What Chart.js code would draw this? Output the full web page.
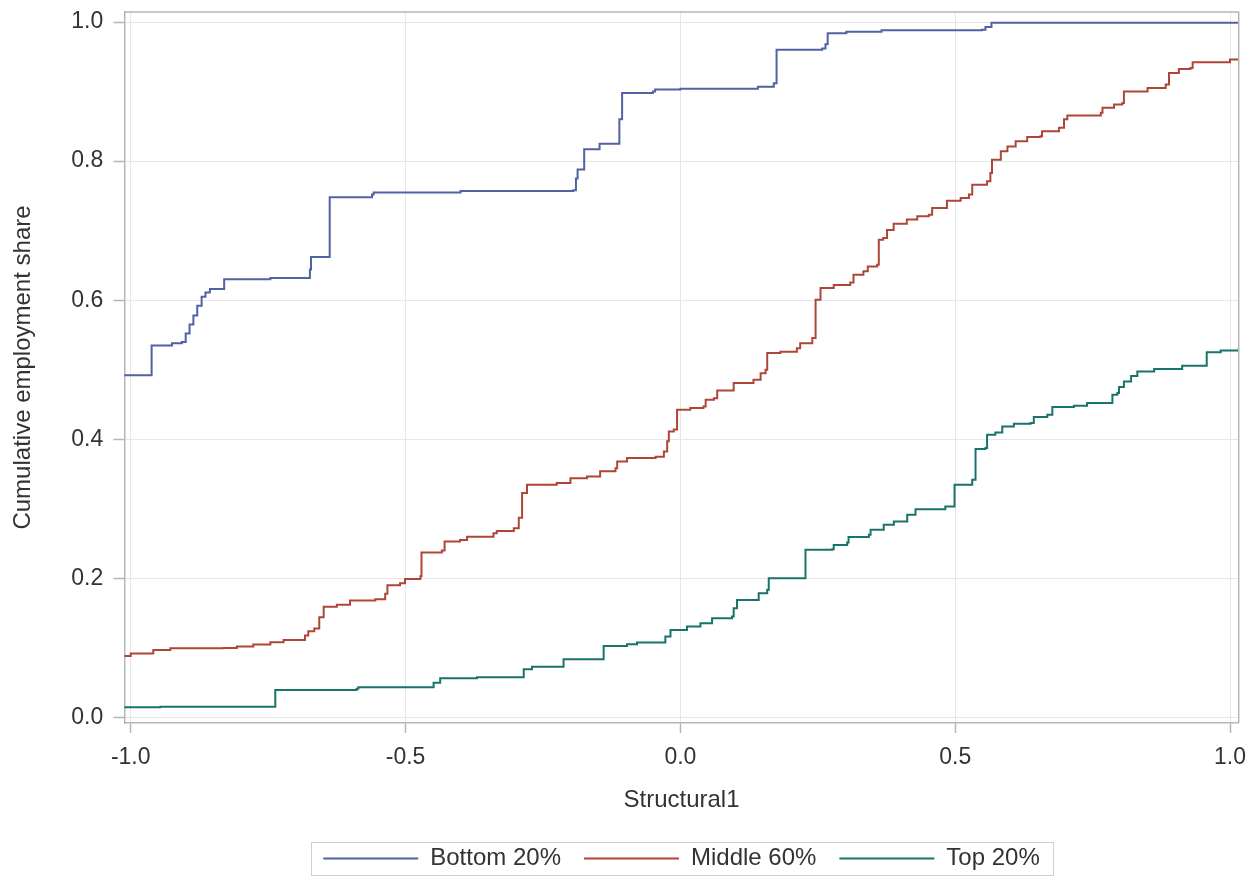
<!DOCTYPE html>
<html>
<head>
<meta charset="utf-8">
<script src="https://cdn.jsdelivr.net/npm/chart.js@4.4.1/dist/chart.umd.min.js"></script>
<style>
    html, body { margin: 0; padding: 0; background: #ffffff; }
    #wrap { width: 1257px; height: 877px; }
</style>
</head>
<body>
<div id="wrap"><canvas id="cdf-chart" width="1257" height="877"></canvas></div>
<script>
// Шаги кумулятивной доли занятости (x - где меняется значение, y - новое значение)
const bottomX = [-1.012, -0.962, -0.925, -0.907, -0.900, -0.893, -0.886, -0.879, -0.871, -0.864, -0.856, -0.830,
    -0.746, -0.674, -0.672, -0.638, -0.561, -0.558, -0.400, -0.195, -0.190, -0.187, -0.175, -0.147, -0.111, -0.106,
    -0.050, -0.046, 0.000, 0.141, 0.170, 0.175, 0.258, 0.264, 0.268, 0.302, 0.366, 0.549, 0.555, 0.566, 1.016];
const bottomY = [0.492, 0.535, 0.538, 0.540, 0.552, 0.565, 0.578, 0.592, 0.605, 0.611, 0.616, 0.630,
    0.632, 0.644, 0.662, 0.748, 0.752, 0.755, 0.757, 0.758, 0.775, 0.788, 0.817, 0.825, 0.860, 0.898,
    0.900, 0.903, 0.904, 0.907, 0.912, 0.960, 0.962, 0.968, 0.984, 0.986, 0.988, 0.989, 0.993, 0.999, 0.999];

const middleX = [-1.012, -1.000, -0.959, -0.928, -0.831, -0.807, -0.777, -0.746, -0.722, -0.683, -0.677, -0.666,
    -0.657, -0.649, -0.625, -0.601, -0.555, -0.537, -0.533, -0.510, -0.501, -0.473, -0.471, -0.434, -0.429, -0.401,
    -0.388, -0.340, -0.334, -0.303, -0.294, -0.288, -0.279, -0.225, -0.200, -0.170, -0.146, -0.118, -0.115, -0.097,
    -0.045, -0.030, -0.024, -0.021, -0.012, -0.006, 0.018, 0.042, 0.046, 0.061, 0.067, 0.097, 0.133, 0.146, 0.155,
    0.158, 0.182, 0.212, 0.218, 0.240, 0.246, 0.255, 0.279, 0.309, 0.315, 0.333, 0.341, 0.358, 0.361, 0.369, 0.376,
    0.388, 0.412, 0.431, 0.452, 0.458, 0.485, 0.510, 0.525, 0.531, 0.558, 0.564, 0.567, 0.583, 0.595, 0.610, 0.631,
    0.655, 0.658, 0.689, 0.698, 0.704, 0.765, 0.768, 0.789, 0.804, 0.807, 0.850, 0.883, 0.889, 0.907, 0.928, 0.932,
    1.000, 1.016];
const middleY = [0.0885, 0.092, 0.097, 0.0996, 0.100, 0.102, 0.105, 0.108, 0.1115, 0.118, 0.124, 0.128,
    0.144, 0.159, 0.162, 0.168, 0.170, 0.178, 0.190, 0.193, 0.199, 0.203, 0.237, 0.240, 0.253, 0.255,
    0.260, 0.265, 0.268, 0.272, 0.287, 0.3226, 0.3345, 0.337, 0.344, 0.3465, 0.354, 0.3585, 0.368, 0.373,
    0.375, 0.3825, 0.397, 0.411, 0.414, 0.4424, 0.445, 0.447, 0.457, 0.459, 0.470, 0.481, 0.4856, 0.495, 0.500,
    0.524, 0.526, 0.531, 0.538, 0.5456, 0.6007, 0.6175, 0.622, 0.6256, 0.6367, 0.6415, 0.6486, 0.651, 0.687, 0.6895, 0.701,
    0.710, 0.716, 0.7206, 0.723, 0.7327, 0.743, 0.747, 0.7518, 0.766, 0.771, 0.783, 0.802, 0.814, 0.821, 0.8285, 0.8348,
    0.8357, 0.843, 0.848, 0.860, 0.8655, 0.8694, 0.8766, 0.8813, 0.8837, 0.900, 0.905, 0.910, 0.9268, 0.9326, 0.934, 0.942,
    0.946, 0.946];

const topX = [-1.012, -0.946, -0.737, -0.589, -0.586, -0.449, -0.437, -0.370, -0.285, -0.270, -0.2125, -0.1396,
    -0.097, -0.079, -0.0273, -0.018, 0.012, 0.0365, 0.0577, 0.094, 0.097, 0.103, 0.1425, 0.158, 0.1608, 0.2276,
    0.2762, 0.279, 0.3035, 0.306, 0.343, 0.346, 0.370, 0.3884, 0.4127, 0.4278, 0.482, 0.4988, 0.531, 0.537, 0.555,
    0.558, 0.573, 0.5856, 0.6068, 0.637, 0.643, 0.6676, 0.6767, 0.716, 0.740, 0.786, 0.795, 0.798, 0.807, 0.820,
    0.8314, 0.862, 0.913, 0.9576, 0.983, 1.016];
const topY = [0.0147, 0.0155, 0.0396, 0.0414, 0.0435, 0.050, 0.0564, 0.0578, 0.0693, 0.073, 0.0837, 0.1029,
    0.1053, 0.1076, 0.1163, 0.1259, 0.1306, 0.1355, 0.1427, 0.145, 0.157, 0.169, 0.1787, 0.1835, 0.2003, 0.241,
    0.242, 0.248, 0.2515, 0.2593, 0.2626, 0.2698, 0.277, 0.2817, 0.2914, 0.2995, 0.3033, 0.3345, 0.3417, 0.386, 0.3873,
    0.4065, 0.4098, 0.4184, 0.4223, 0.4233, 0.432, 0.4353, 0.4463, 0.4482, 0.452, 0.464, 0.4665, 0.475, 0.483, 0.491,
    0.4976, 0.501, 0.5058, 0.525, 0.5278, 0.5327];

const seriesLabels = ['Bottom 20%', 'Middle 60%', 'Top 20%'];
const seriesColors = ['#4f62a4', '#ae4637', '#18736a'];
const xTickValues = [-1.0, -0.5, 0.0, 0.5, 1.0];
const yTickValues = [0.0, 0.2, 0.4, 0.6, 0.8, 1.0];

const axisGray = '#b3b7bb';
const textGray = '#333333';
const fontFamily = '"Liberation Sans", Arial, sans-serif';

function toPoints(xs, ys) {
    return xs.map((x, i) => ({ x: x, y: ys[i] }));
}

function makeSeries(label, xs, ys, color) {
    return {
        label: label,
        data: toPoints(xs, ys),
        borderColor: color,
        backgroundColor: color,
        borderWidth: 2,
        showLine: true,
        stepped: 'before', // горизонталь, потом вертикаль в точке x
        pointRadius: 0,
        fill: false
    };
}

// Рамка вокруг области графика (верх и право) и рамка легенды
const framePlugin = {
    id: 'frame',
    afterDraw(chart) {
        const c = chart.ctx;
        const a = chart.chartArea;
        c.save();
        c.strokeStyle = axisGray;
        c.lineWidth = 1.5;
        c.beginPath();
        c.moveTo(a.left, a.top);
        c.lineTo(a.right, a.top);
        c.lineTo(a.right, a.bottom);
        c.stroke();

        const boxes = chart.legend.legendHitBoxes;
        if (boxes && boxes.length) {
            const first = boxes[0];
            const last = boxes[boxes.length - 1];
            const midY = first.top + first.height / 2;
            const left = first.left - 12.5;
            const right = last.left + last.width + 13;
            c.strokeStyle = '#cfcfcf';
            c.lineWidth = 1;
            c.strokeRect(Math.round(left) + 0.5, Math.round(midY - 16.5) + 0.5, Math.round(right - left), 33);
        }
        c.restore();
    }
};

const ctx = document.getElementById('cdf-chart').getContext('2d');
const chart = new Chart(ctx, {
    type: 'scatter',
    data: {
        datasets: [
            makeSeries(seriesLabels[0], bottomX, bottomY, seriesColors[0]),
            makeSeries(seriesLabels[1], middleX, middleY, seriesColors[1]),
            makeSeries(seriesLabels[2], topX, topY, seriesColors[2])
        ]
    },
    options: {
        responsive: false,
        animation: false,
        devicePixelRatio: 1,
        layout: {
            padding: { left: 0, right: 18.3, top: 12, bottom: -3.5 }
        },
        plugins: {
            tooltip: { enabled: false },
            legend: {
                display: true,
                position: 'bottom',
                align: 'center',
                fullSize: false, // центрируем по области графика
                labels: {
                    usePointStyle: true,
                    pointStyle: 'line',
                    pointStyleWidth: 95,
                    padding: 23,
                    color: textGray,
                    font: { family: fontFamily, size: 24 }
                }
            }
        },
        scales: {
            x: {
                type: 'linear',
                min: -1.0117,
                max: 1.0158,
                afterBuildTicks: (scale) => {
                    scale.ticks = xTickValues.map(v => ({ value: v }));
                },
                afterFit: (scale) => {
                    scale.height = 100.5;
                    scale.paddingLeft = 0;
                    scale.paddingRight = 0;
                },
                ticks: {
                    padding: 11,
                    color: textGray,
                    font: { family: fontFamily, size: 23 },
                    maxRotation: 0,
                    callback: (v) => Number(v).toFixed(1)
                },
                grid: {
                    color: '#e6e6e6',
                    lineWidth: 1,
                    tickLength: 10,
                    tickColor: axisGray,
                    tickWidth: 1.5
                },
                border: { color: axisGray, width: 1.5 },
                title: {
                    display: true,
                    text: 'Structural1',
                    color: textGray,
                    font: { family: fontFamily, size: 24 },
                    padding: { top: 0, bottom: 9 }
                }
            },
            y: {
                type: 'linear',
                min: -0.008,
                max: 1.0144,
                afterBuildTicks: (scale) => {
                    scale.ticks = yTickValues.map(v => ({ value: v }));
                },
                afterFit: (scale) => {
                    scale.width = 124.3;
                    scale.paddingTop = 0; // без лишнего отступа сверху под метку 1.0
                    scale.paddingBottom = 0;
                },
                ticks: {
                    padding: 10,
                    color: textGray,
                    font: { family: fontFamily, size: 23 },
                    callback: (v) => Number(v).toFixed(1)
                },
                grid: {
                    color: '#e6e6e6',
                    lineWidth: 1,
                    tickLength: 11,
                    tickColor: axisGray,
                    tickWidth: 1.5
                },
                border: { color: axisGray, width: 1.5 },
                title: {
                    display: true,
                    text: 'Cumulative employment share',
                    color: textGray,
                    font: { family: fontFamily, size: 24 },
                    padding: { top: 9, bottom: 0 }
                }
            }
        }
    },
    plugins: [framePlugin]
});
</script>
</body>
</html>
